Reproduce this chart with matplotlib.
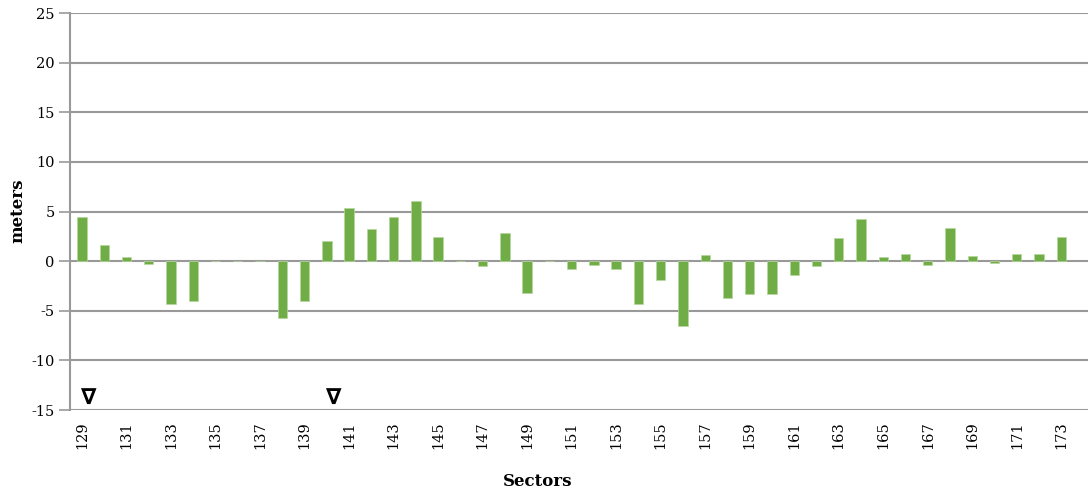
import matplotlib
matplotlib.use("Agg")
import matplotlib.pyplot as plt
import numpy as np

sectors = list(range(129, 174))
values = [4.4, 1.6, 0.4, -0.3, -4.3, -4.05, 0, 0, 0, -5.7,
          -4.05, 2.0, 5.4, 3.25, 4.45, 6.1, 2.4, 0, -0.5, 2.8,
          -3.2, 0, -0.8, -0.35, -0.8, -4.3, -1.9, -6.5, 0.65, -3.75,
          -3.3, -3.3, -1.4, -0.5, 2.3, 4.2, 0.4, 0.75, -0.4, 3.3,
          0.5, -0.2, 0.75, 0.7, 2.4]
marker_sectors = [129, 140]
yticks = [-15, -10, -5, 0, 5, 10, 15, 20, 25]

fig = plt.figure(figsize=(10.88, 4.95), dpi=100)
ax = fig.add_axes([70/1088, 85/495, 1 - 70/1088, 397/495])

x = np.arange(len(sectors))
ax.bar(x, values, width=0.42, color='#70AD47', edgecolor='#b5d99c', linewidth=0.5, zorder=3)

ax.set_ylim(-15, 25)
ax.set_xlim(-0.54, 45.2)
ax.set_yticks(yticks)
ax.set_yticklabels([str(v) for v in yticks], family='DejaVu Serif', fontsize=10.5)
ax.set_xticks(x[::2])
ax.set_xticklabels([str(s) for s in sectors[::2]], rotation=90, family='DejaVu Serif', fontsize=10.5)
ax.tick_params(axis='x', length=0, pad=8)
ax.tick_params(axis='y', length=8, color='#999999', width=1.2, pad=3)

ax.grid(axis='y', color='#999999', linewidth=1.5, zorder=1)
ax.set_axisbelow(True)
for s in ['top', 'right', 'bottom']:
    ax.spines[s].set_visible(False)
ax.spines['left'].set_color('#999999')
ax.spines['left'].set_linewidth(1.5)

for ms in marker_sectors:
    i = sectors.index(ms)
    ax.text(i + 0.3, -14.75, '\u2207', ha='center', va='bottom', fontsize=16,
            fontweight='bold', family='DejaVu Sans', color='black', zorder=4)

fig.text(18/1088, 1 - 211/495, 'meters', rotation=90, ha='center', va='center',
         family='DejaVu Serif', fontweight='bold', fontsize=12)
fig.text(538/1088, 1 - 481/495, 'Sectors', ha='center', va='center',
         family='DejaVu Serif', fontweight='bold', fontsize=12)

fig.savefig('out.png', dpi=100)
